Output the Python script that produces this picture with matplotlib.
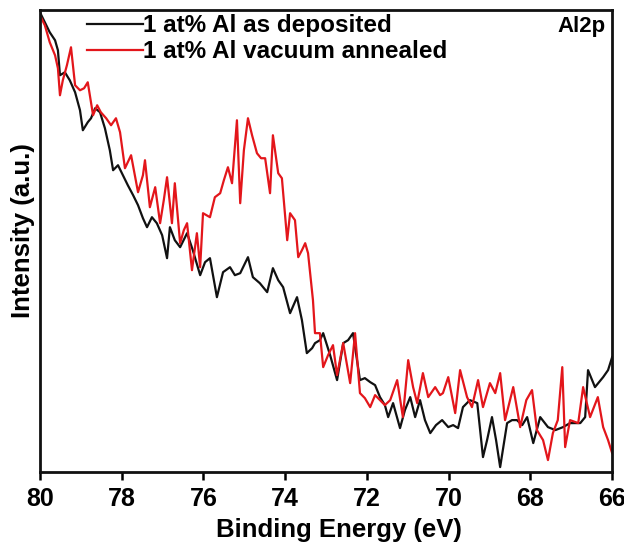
import matplotlib
matplotlib.use("Agg")
import matplotlib.pyplot as plt

# Al 2p core-level spectra
energy_dep = [80.00, 79.88, 79.76, 79.63, 79.56, 79.51, 79.39, 79.27, 79.14, 79.02,
              78.95, 78.83, 78.75, 78.65, 78.53, 78.41, 78.29, 78.21, 78.09, 77.97,
              77.85, 77.72, 77.60, 77.48, 77.38, 77.26, 77.14, 77.01, 76.89, 76.82,
              76.70, 76.57, 76.40, 76.26, 76.08, 75.96, 75.84, 75.67, 75.52, 75.35,
              75.23, 75.10, 74.91, 74.79, 74.62, 74.44, 74.30, 74.17, 74.05, 73.88,
              73.71, 73.59, 73.47, 73.34, 73.27, 73.15, 73.07, 72.90, 72.73, 72.58,
              72.46, 72.34, 72.17, 72.05, 71.92, 71.80, 71.68, 71.56, 71.48, 71.36,
              71.19, 71.07, 70.94, 70.82, 70.70, 70.58, 70.45, 70.31, 70.16, 70.01,
              69.89, 69.77, 69.65, 69.48, 69.30, 69.16, 69.06, 68.94, 68.84, 68.74,
              68.57, 68.45, 68.33, 68.20, 68.08, 67.93, 67.76, 67.57, 67.39, 67.20,
              67.03, 66.78, 66.66, 66.59, 66.42, 66.22, 66.10, 66.00]
intensity_dep = [460, 450, 440, 432, 422, 397, 400, 392, 380, 362,
                 342, 350, 354, 364, 360, 344, 322, 302, 307, 297,
                 287, 277, 267, 254, 245, 255, 249, 237, 214, 245,
                 232, 225, 239, 222, 197, 210, 214, 175, 200, 205,
                 197, 199, 215, 195, 189, 180, 204, 192, 185, 159,
                 175, 152, 119, 124, 129, 132, 139, 117, 92, 129,
                 132, 139, 92, 94, 90, 87, 75, 67, 55, 69,
                 44, 62, 75, 55, 72, 52, 39, 47, 52, 45,
                 47, 44, 65, 72, 69, 15, 32, 55, 32, 5,
                 49, 52, 52, 47, 55, 29, 55, 45, 42, 45,
                 49, 49, 55, 102, 85, 95, 102, 115]

energy_ann = [80.00, 79.88, 79.76, 79.63, 79.56, 79.51, 79.44, 79.34, 79.24, 79.14,
              79.02, 78.92, 78.83, 78.70, 78.60, 78.51, 78.38, 78.26, 78.14, 78.04,
              77.92, 77.77, 77.60, 77.48, 77.43, 77.31, 77.18, 77.06, 76.97, 76.89,
              76.77, 76.70, 76.57, 76.48, 76.40, 76.28, 76.16, 76.08, 76.01, 75.84,
              75.72, 75.59, 75.50, 75.40, 75.30, 75.18, 75.10, 75.01, 74.91, 74.81,
              74.69, 74.59, 74.49, 74.37, 74.30, 74.17, 74.08, 73.95, 73.88, 73.76,
              73.68, 73.59, 73.51, 73.44, 73.32, 73.27, 73.15, 73.07, 72.95, 72.83,
              72.73, 72.58, 72.41, 72.29, 72.17, 72.05, 71.92, 71.80, 71.68, 71.56,
              71.43, 71.26, 71.12, 70.99, 70.87, 70.77, 70.63, 70.50, 70.33, 70.21,
              70.14, 70.01, 69.84, 69.72, 69.55, 69.43, 69.28, 69.16, 68.99, 68.86,
              68.74, 68.62, 68.42, 68.25, 68.10, 67.96, 67.84, 67.69, 67.57, 67.45,
              67.33, 67.22, 67.15, 67.03, 66.83, 66.71, 66.54, 66.35, 66.22, 66.10,
              66.00]
intensity_ann = [457, 447, 430, 417, 404, 377, 392, 407, 425, 387,
                 382, 384, 390, 357, 367, 360, 354, 347, 354, 340,
                 304, 317, 280, 297, 312, 265, 285, 249, 272, 295,
                 249, 289, 229, 242, 249, 202, 239, 205, 259, 255,
                 275, 279, 292, 305, 289, 352, 269, 322, 354, 337,
                 319, 314, 314, 279, 337, 299, 294, 232, 259, 252,
                 215, 222, 229, 219, 172, 139, 139, 105, 117, 127,
                 97, 129, 89, 139, 79, 74, 65, 77, 72, 67,
                 72, 92, 55, 112, 85, 69, 99, 75, 85, 77,
                 79, 95, 59, 102, 75, 65, 92, 65, 89, 79,
                 99, 52, 85, 45, 72, 82, 42, 32, 12, 39,
                 52, 105, 25, 52, 49, 85, 55, 75, 45, 32,
                 19]

series_labels = ["1 at% Al as deposited", "1 at% Al vacuum annealed"]
series_colors = ["#111111", "#e3161b"]
x_ticks = [80, 78, 76, 74, 72, 70, 68, 66]
x_label = "Binding Energy (eV)"
y_label = "Intensity (a.u.)"
peak_label = "Al2p"

plt.rcParams["font.family"] = ["Liberation Sans", "DejaVu Sans"]
plt.rcParams["font.weight"] = "bold"

fig = plt.figure(figsize=(6.24, 5.42), dpi=100)
ax = fig.add_axes([0.064, 0.129, 0.917, 0.852])

ax.plot(energy_dep, intensity_dep, color=series_colors[0], lw=1.6, label=series_labels[0])
ax.plot(energy_ann, intensity_ann, color=series_colors[1], lw=1.6, label=series_labels[1])

ax.set_xlim(80, 66)
ax.set_ylim(0, 462)
ax.set_xticks(x_ticks)
ax.set_xticklabels([str(t) for t in x_ticks], fontsize=18, fontweight="bold")
ax.set_yticks([])
ax.tick_params(axis="x", direction="out", length=6, width=1.8, pad=5)
for s in ax.spines.values():
    s.set_linewidth(2.0)
    s.set_color("#111111")

ax.set_xlabel(x_label, fontsize=18.5, fontweight="bold", labelpad=0)
ax.xaxis.set_label_coords(0.5225, -0.10)
ax.set_ylabel(y_label, fontsize=18.5, fontweight="bold")
ax.yaxis.set_label_coords(-0.008, 0.524)

leg = ax.legend(loc="upper left", bbox_to_anchor=(0.065, 1.012), frameon=False,
                fontsize=17.5, handlelength=2.3, handletextpad=0.0,
                labelspacing=0.12, borderaxespad=0.0)
for t in leg.get_texts():
    t.set_fontweight("bold")

ax.text(0.988, 0.988, peak_label, transform=ax.transAxes, ha="right", va="top",
        fontsize=16, fontweight="bold")

fig.savefig("out.png", dpi=100)
